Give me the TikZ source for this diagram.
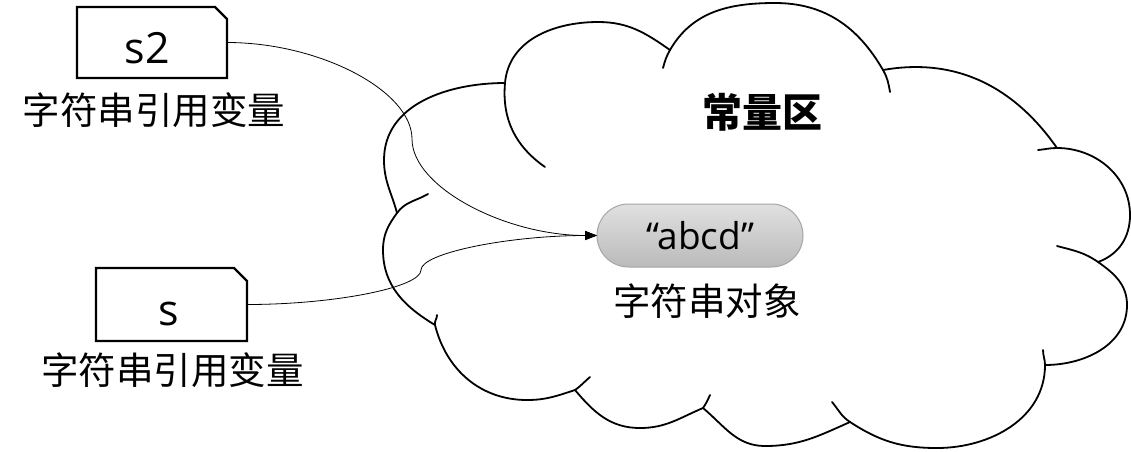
\documentclass[tikz,border=0pt]{standalone}
\usepackage{fontspec}
\setmainfont{Noto Sans CJK SC}
\newfontfamily\latinfont{Open Sans}
\usetikzlibrary{shapes.misc,arrows.meta}
\begin{document}
\begin{tikzpicture}[x=1pt,y=1pt,
  cloudline/.style={line width=1.8pt, line join=round, line cap=round},
  boxnode/.style={draw=none, inner sep=0pt, outer sep=0pt},
  boxline/.style={line width=2.4pt, line join=miter},
  vartext/.style={font=\latinfont\fontsize{43}{46}\selectfont, inner sep=0pt, anchor=base},
  label/.style={font=\fontsize{37.5}{40}\selectfont, inner sep=0pt},
  title/.style={font=\bfseries\fontsize{40}{44}\selectfont, inner sep=0pt},
  pill/.style={rounded rectangle, draw=black!35, line width=1pt, top color=black!12, bottom color=black!27,
    minimum width=206pt, minimum height=63pt, inner sep=0pt, outer sep=0pt,
    font=\latinfont\fontsize{37}{40}\selectfont},
  conn/.style={line width=0.8pt, -{Triangle[length=12pt,width=9pt]}}
]
\useasboundingbox (0,0) rectangle (1131,-451);

% cloud outline
\draw[cloudline, fill=white]
  (397,-213) to[out=105,in=-90] (384,-160) to[out=90,in=180] (505,-83)
  to[out=85,in=180] (598,-22) to[out=0,in=145] (670,-50)
  to[out=60,in=180] (775,-3) to[out=0,in=120] (883,-70)
  to[out=10,in=125] (1057,-148)
  to[out=0,in=90] (1130,-215) to[out=-90,in=20] (1098,-262)
  to[out=-35,in=90] (1127,-305) to[out=-90,in=0] (1045,-365)
  to[out=-90,in=0] (937,-448) to[out=180,in=-33] (850,-422)
  to[out=204,in=0] (765,-446) to[out=180,in=-40] (703,-408)
  to[out=203,in=0] (640,-428) to[out=180,in=-50] (575,-390)
  to[out=198,in=0] (527,-400) to[out=180,in=-76] (435,-325)
  to[out=149,in=-90] (383,-250) to[out=90,in=-126] (397,-213) -- cycle;
% inner arcs of the cloud
\draw[cloudline] (397,-213) to[out=54,in=210] (428,-194);
\draw[cloudline] (505,-83) to[out=-95,in=145] (545,-167);
\draw[cloudline] (670,-50) to[out=240,in=75] (663,-68);
\draw[cloudline] (883,-70) to[out=-60,in=100] (890,-92);
\draw[cloudline] (1057,-148) to[out=180,in=5] (1038,-150);
\draw[cloudline] (1098,-262) to[out=145,in=-15] (1057,-246);
\draw[cloudline] (1045,-365) to[out=90,in=-90] (1043,-350);
\draw[cloudline] (850,-422) to[out=147,in=-50] (832,-402);
\draw[cloudline] (703,-408) to[out=55,in=-115] (710,-395);
\draw[cloudline] (575,-390) to[out=35,in=-140] (590,-377);
\draw[cloudline] (435,-325) to[out=104,in=-88] (437,-315);

\node[title] (area) at (762.5,-112) {常量区};

% string object
\node[pill] (pill) at (700,-235.5) {“abcd”};
\node[label] (objlabel) at (707,-301) {字符串对象};

% variable boxes
\node[boxnode, minimum width=150pt, minimum height=71pt] (s2box) at (152,-42.5) {};
\draw[boxline] (s2box.south west) -- (s2box.north west) -- ([xshift=-12pt]s2box.north east)
  -- ([yshift=-12pt]s2box.north east) -- (s2box.south east) -- cycle;
\node[vartext] (s2text) at (147.5,-63) {s2};
\node[label] (s2label) at (154,-110) {字符串引用变量};

\node[boxnode, minimum width=151pt, minimum height=73pt] (sbox) at (171.5,-304.5) {};
\draw[boxline] (sbox.south west) -- (sbox.north west) -- ([xshift=-13pt]sbox.north east)
  -- ([yshift=-13pt]sbox.north east) -- (sbox.south east) -- cycle;
\node[vartext] (stext) at (168.5,-325) {s};
\node[label] (slabel) at (172.5,-370.5) {字符串引用变量};

% connectors
\draw[conn] (s2box.east) .. controls (320,-42.5) and (412,-91) .. (412,-139)
  .. controls (412,-187) and (505,-235.5) .. (pill.west);
\draw[conn] (sbox.east) .. controls (334,-304.5) and (421,-287.5) .. (421,-270)
  .. controls (421,-253) and (509,-235.5) .. (pill.west);
\end{tikzpicture}
\end{document}
